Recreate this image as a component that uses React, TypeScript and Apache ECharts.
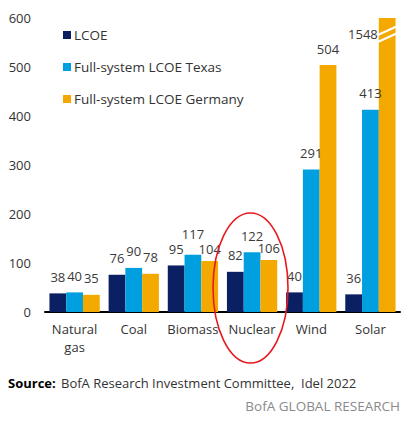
import React, { useEffect, useRef } from "react";
import * as echarts from "echarts";

const categories = ["Natural\ngas", "Coal", "Biomass", "Nuclear", "Wind", "Solar"];
const lcoe = [38, 76, 95, 82, 40, 36];
const texas = [40, 90, 117, 122, 291, 413];
const germany = [35, 78, 104, 106, 504, 1548];
const seriesNames = ["LCOE", "Full-system LCOE Texas", "Full-system LCOE Germany"];
const yTicks = [0, 100, 200, 300, 400, 500, 600];
const colors = ["#0B1F63", "#009FDF", "#F4A900"];
const sourceLabel = "Source:";
const sourceText = "BofA Research Investment Committee,  Idel 2022";
const brandText = "BofA GLOBAL RESEARCH";

// vertical nudges of individual value labels (series index -> category index -> px, + = up)
const labelNudge: Record<number, Record<number, number>> = {
  1: { 2: 4 },
  2: { 2: -4, 3: -4 },
};

const FONT = "'Open Sans', sans-serif";
const Y_MAX = yTicks[yTicks.length - 1];

export default function App() {
  const ref = useRef<HTMLDivElement>(null);
  useEffect(() => {
    if (!ref.current) return;
    const chart = echarts.init(ref.current, null, { renderer: "svg" });
    const baseLabel = {
      show: true,
      position: "top",
      distance: 10,
      color: "#3a3a3a",
      fontSize: 13,
      fontFamily: FONT,
    };
    const mk = (vals: number[], i: number) => ({
      name: seriesNames[i],
      type: "bar",
      barGap: "0%",
      barCategoryGap: "15%",
      itemStyle: { color: colors[i] },
      label: baseLabel,
      data: vals.map((v, ci) => {
        if (v > Y_MAX) {
          return {
            value: Y_MAX,
            label: {
              show: true,
              position: [-1, 16],
              align: "right",
              verticalAlign: "middle",
              formatter: String(v),
              color: "#3a3a3a",
              fontSize: 13,
              fontFamily: FONT,
            },
          };
        }
        const n = labelNudge[i] && labelNudge[i][ci];
        if (n) {
          return { value: v, label: { ...baseLabel, distance: 10 + n } };
        }
        return v;
      }),
    });
    const breakData = germany
      .map((v, i) => (v > Y_MAX ? [i, Y_MAX] : null))
      .filter((d) => d !== null);
    chart.setOption({
      animation: false,
      textStyle: { fontFamily: FONT },
      grid: { left: 45, right: 13, top: 18, bottom: 110 },
      legend: {
        orient: "vertical",
        left: 58,
        top: 23,
        itemWidth: 8,
        itemHeight: 8,
        itemGap: 18,
        icon: "rect",
        data: seriesNames,
        textStyle: { fontSize: 13.5, color: "#333", fontFamily: FONT, lineHeight: 14, padding: [0, 0, 0, -2] },
      },
      xAxis: {
        type: "category",
        data: categories,
        axisLine: { lineStyle: { color: "#000", width: 2 } },
        axisTick: { show: false },
        axisLabel: { color: "#333", fontSize: 13, lineHeight: 18, margin: 8, fontFamily: FONT, interval: 0 },
      },
      yAxis: {
        type: "value",
        min: 0,
        max: Y_MAX,
        interval: 100,
        axisLine: { show: false },
        axisTick: { show: false },
        splitLine: { show: false },
        axisLabel: { color: "#333", fontSize: 13, margin: 14, fontFamily: FONT },
      },
      series: [
        mk(lcoe, 0),
        mk(texas, 1),
        mk(germany, 2),
        {
          type: "custom",
          silent: true,
          z: 10,
          data: breakData,
          renderItem: (params: any, api: any) => {
            const p = api.coord([api.value(0), api.value(1)]);
            const bw = api.size([1, 0])[0];
            const barW = (bw * 0.85) / 3;
            const xc = p[0] + barW;
            const x0 = xc - barW / 2 - 1;
            const x1 = xc + barW / 2 + 2;
            const top = p[1];
            const line = (dy: number) => ({
              type: "line",
              shape: { x1: x0, y1: top + dy + 9, x2: x1, y2: top + dy },
              style: { stroke: "#fff", lineWidth: 2.2 },
            });
            return { type: "group", children: [line(8), line(15)] };
          },
        },
      ],
      graphic: [
        {
          type: "ellipse",
          shape: { cx: 250.5, cy: 288, rx: 37.5, ry: 75 },
          style: { fill: "none", stroke: "#E8181E", lineWidth: 1.6 },
          z: 20,
        },
        {
          type: "text",
          left: 8,
          top: 376,
          style: {
            text: sourceLabel,
            fontSize: 13,
            fontWeight: "bold",
            fill: "#000",
            fontFamily: FONT,
          },
        },
        {
          type: "text",
          left: 61,
          top: 376,
          style: { text: sourceText, fontSize: 13, fill: "#333", fontFamily: FONT },
        },
        {
          type: "text",
          right: 13,
          top: 399,
          style: { text: brandText, fontSize: 13.5, fill: "#8a8a8a", fontFamily: FONT },
        },
      ],
    });
    return () => chart.dispose();
  }, []);
  return (
    <div
      ref={ref}
      style={{ position: "fixed", left: 0, top: 0, width: 413, height: 422, background: "#fff" }}
    />
  );
}
